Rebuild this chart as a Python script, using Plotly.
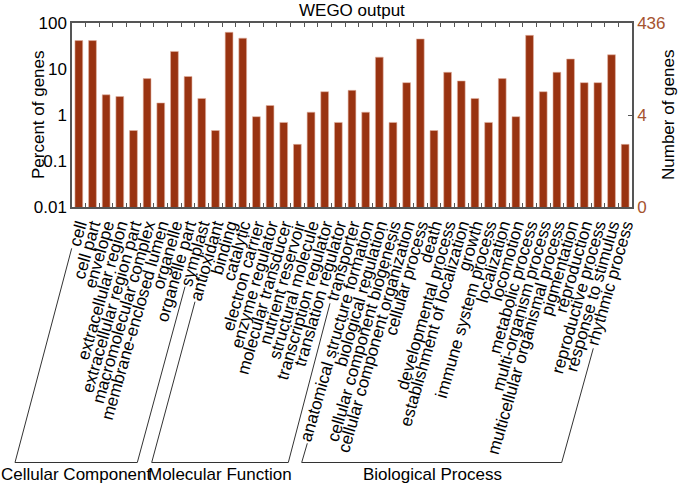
import plotly.graph_objects as go

# ---- data ----
categories = [
    "cell", "cell part", "envelope", "extracellular region", "extracellular region part",
    "macromolecular complex", "membrane-enclosed lumen", "organelle", "organelle part", "symplast",
    "antioxidant", "binding", "catalytic", "electron carrier", "enzyme regulator",
    "molecular transducer", "nutrient reservoir", "structural molecule", "transcription regulator",
    "translation regulator", "transporter",
    "anatomical structure formation", "biological regulation", "cellular component biogenesis",
    "cellular component organization", "cellular process", "death", "developmental process",
    "establishment of localization", "growth", "immune system process", "localization",
    "locomotion", "metabolic process", "multi-organism process", "multicellular organismal process",
    "pigmentation", "reproduction", "reproductive process", "response to stimulus", "rhythmic process",
]
percent_of_genes = [
    41.5, 41.5, 2.75, 2.52, 0.46, 6.19, 1.83, 24.1, 6.88, 2.29,
    0.46, 62.8, 46.8, 0.92, 1.61, 0.69, 0.23, 1.15, 3.21, 0.69, 3.44,
    1.15, 18.1, 0.69, 5.05, 45.0, 0.46, 8.49, 5.5, 2.29, 0.69, 6.19,
    0.92, 53.9, 3.21, 8.49, 16.5, 5.05, 5.05, 20.4, 0.23,
]
left_tick_vals = [0.01, 0.1, 1, 10, 100]
left_tick_text = ["0.01", "0.1", "1", "10", "100"]
right_tick_vals = [0.01, 1, 100]
right_tick_text = ["0", "4", "436"]
group_names = ["Cellular Component", "Molecular Function", "Biological Process"]

# ---- layout geometry (pixels) ----
W, H = 685, 487
L, R, T, B = 72, 632, 23, 207
FONT = "Liberation Sans, Arial, Helvetica, sans-serif"
BAR = "#993311"
BROWN = "#a5532f"
AX = "#555555"


def px(x):
    return (x - L) / (R - L)


def py(y):
    return (B - y) / (B - T)


fig = go.Figure()
fig.add_trace(go.Bar(
    x=categories, y=percent_of_genes,
    marker=dict(color=BAR, line=dict(color="#e2b4a2", width=0.6)),
    hoverinfo="x+y",
))
fig.add_trace(go.Scatter(
    x=categories, y=percent_of_genes, yaxis="y2", mode="markers",
    marker=dict(opacity=0), hoverinfo="skip", showlegend=False,
))

# bracket lines for the three GO groups
brackets = [
    [(71.7, 248.3), (15, 462.5), (137.3, 462.5), (185, 286.7)],
    [(195, 301.7), (151.7, 462.5), (288.3, 462.5), (330, 303.3)],
    [(307.3, 443.3), (301.7, 462.5), (561.7, 462.5), (593.3, 348.3)],
]
shapes = []
for pts in brackets:
    path = "M " + " L ".join(f"{px(a):.5f},{py(b):.5f}" for a, b in pts)
    shapes.append(dict(type="path", path=path, xref="paper", yref="paper",
                       line=dict(color="#333333", width=1)))

group_centers = [76, 220, 432]
annotations = []
for name, cx in zip(group_names, group_centers):
    annotations.append(dict(text=name, x=px(cx), y=py(474), xref="paper", yref="paper",
                            showarrow=False, xanchor="center", yanchor="middle",
                            font=dict(size=17, color="black", family=FONT)))
annotations += [
    dict(text="WEGO output", x=px(352), y=py(10), xref="paper", yref="paper", showarrow=False,
         xanchor="center", yanchor="middle", font=dict(size=17, color="black", family=FONT)),
    dict(text="Percent of genes", x=px(38), y=py(115), xref="paper", yref="paper", showarrow=False,
         textangle=-90, xanchor="center", yanchor="middle",
         font=dict(size=17, color="black", family=FONT)),
    dict(text="Number of genes", x=px(668), y=py(115), xref="paper", yref="paper", showarrow=False,
         textangle=-90, xanchor="center", yanchor="middle",
         font=dict(size=17, color="black", family=FONT)),
]

fig.update_layout(
    width=W, height=H,
    margin=dict(l=L, r=W - R, t=T, b=H - B, autoexpand=False),
    paper_bgcolor="white", plot_bgcolor="white",
    showlegend=False, bargap=0.43,
    font=dict(family=FONT, size=17, color="black"),
    xaxis=dict(
        type="category", tickangle=-74, tickfont=dict(size=17, color="black"),
        tickmode="array", tickvals=categories, ticktext=categories,
        showline=True, linecolor=AX, linewidth=1.5, mirror="ticks",
        ticks="inside", ticklen=4, tickcolor=AX, tickson="boundaries",
        showgrid=False, automargin=False, range=[-0.5, len(categories) - 0.5],
    ),
    yaxis=dict(
        type="log", range=[-2, 2], tickvals=left_tick_vals, ticktext=left_tick_text,
        tickfont=dict(size=17, color="black"), ticks="", showgrid=False,
        showline=True, linecolor=AX, linewidth=1.5, zeroline=False, automargin=False,
    ),
    yaxis2=dict(
        type="log", range=[-2, 2], overlaying="y", side="right",
        tickvals=right_tick_vals, ticktext=right_tick_text,
        tickfont=dict(size=17, color=BROWN), ticks="inside", ticklen=4, tickcolor=AX,
        showgrid=False, showline=True, linecolor=AX, linewidth=1.5, automargin=False,
    ),
    shapes=shapes, annotations=annotations,
)

fig.write_html(
    "out.html",
    config={"displayModeBar": False},
    post_script="document.body.style.margin='0';document.body.style.padding='0';",
)
